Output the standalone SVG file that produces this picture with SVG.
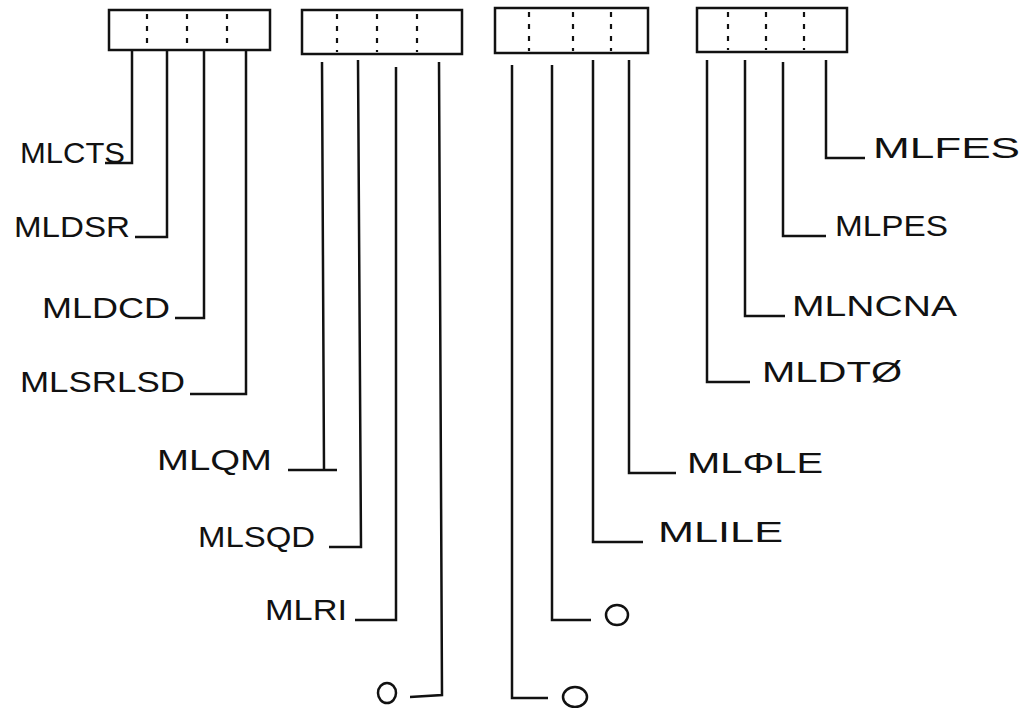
<svg xmlns="http://www.w3.org/2000/svg" width="1025" height="708" viewBox="0 0 1025 708">
<style>
.box{fill:none;stroke:#111;stroke-width:2.5}
.div{stroke:#111;stroke-width:2.2;stroke-dasharray:5 7}
.wire{fill:none;stroke:#111;stroke-width:2.5;stroke-linejoin:miter}
.lbl{font-family:"Liberation Sans",Arial,sans-serif;font-size:29px;fill:#111}
.term{fill:none;stroke:#111;stroke-width:2.5}
</style>
<rect width="1025" height="708" fill="#fff"/>
<g id="register1">
<rect class="box" x="109" y="10" width="161" height="40"/>
<line class="div" x1="147" y1="14" x2="147" y2="48"/>
<line class="div" x1="187" y1="14" x2="187" y2="48"/>
<line class="div" x1="227" y1="14" x2="227" y2="48"/>
</g>
<g id="register2">
<rect class="box" x="302" y="10" width="160" height="44"/>
<line class="div" x1="337" y1="14" x2="337" y2="52"/>
<line class="div" x1="377" y1="14" x2="377" y2="52"/>
<line class="div" x1="417" y1="14" x2="417" y2="52"/>
</g>
<g id="register3">
<rect class="box" x="495" y="8" width="153" height="45"/>
<line class="div" x1="529" y1="12" x2="529" y2="51"/>
<line class="div" x1="573" y1="12" x2="573" y2="51"/>
<line class="div" x1="611" y1="12" x2="611" y2="51"/>
</g>
<g id="register4">
<rect class="box" x="697" y="8" width="150" height="44"/>
<line class="div" x1="728" y1="12" x2="728" y2="50"/>
<line class="div" x1="766" y1="12" x2="766" y2="50"/>
<line class="div" x1="804" y1="12" x2="804" y2="50"/>
</g>
<g id="connectors">
<path class="wire" d="M132,50 V163 H105"/>
<path class="wire" d="M167,50 V237 H135"/>
<path class="wire" d="M204,50 V318 H175"/>
<path class="wire" d="M246,50 V394 H190"/>
<path class="wire" d="M322,62 L324,470 H288 M324,470 H337"/>
<path class="wire" d="M358,60 L361,547 H329"/>
<path class="wire" d="M396,67 V620 H355"/>
<path class="wire" d="M439,62 L442,695 L410,697"/>
<path class="wire" d="M512,65 V698 H548"/>
<path class="wire" d="M552,65 V620 H591"/>
<path class="wire" d="M593,60 V542 H643"/>
<path class="wire" d="M629,60 V473 H676"/>
<path class="wire" d="M707,60 V382 H750"/>
<path class="wire" d="M745,60 V316 H785"/>
<path class="wire" d="M783,62 V236 H826"/>
<path class="wire" d="M826,60 V158 H865"/>
</g>
<g id="label-MLCTS"><text class="lbl" x="20" y="163" textLength="105" lengthAdjust="spacingAndGlyphs">MLCTS</text></g>
<g id="label-MLDSR"><text class="lbl" x="14" y="237" textLength="116" lengthAdjust="spacingAndGlyphs">MLDSR</text></g>
<g id="label-MLDCD"><text class="lbl" x="42" y="318" textLength="128" lengthAdjust="spacingAndGlyphs">MLDCD</text></g>
<g id="label-MLSRLSD"><text class="lbl" x="20" y="392" textLength="165" lengthAdjust="spacingAndGlyphs">MLSRLSD</text></g>
<g id="label-MLQM"><text class="lbl" x="157" y="470" textLength="115" lengthAdjust="spacingAndGlyphs">MLQM</text></g>
<g id="label-MLSQD"><text class="lbl" x="198" y="547" textLength="117" lengthAdjust="spacingAndGlyphs">MLSQD</text></g>
<g id="label-MLRI"><text class="lbl" x="265" y="620" textLength="82" lengthAdjust="spacingAndGlyphs">MLRI</text></g>
<g id="term-1"><ellipse class="term" cx="387" cy="693" rx="9" ry="10"/></g>
<g id="term-2"><ellipse class="term" cx="575" cy="697" rx="12" ry="10"/></g>
<g id="term-3"><ellipse class="term" cx="617" cy="615" rx="11" ry="10"/></g>
<g id="label-MLILE"><text class="lbl" x="658" y="542" textLength="125" lengthAdjust="spacingAndGlyphs">MLILE</text></g>
<g id="label-MLPHILE"><text class="lbl" x="687" y="473" textLength="136" lengthAdjust="spacingAndGlyphs">MLΦLE</text></g>
<g id="label-MLDTO"><text class="lbl" x="762" y="382" textLength="140" lengthAdjust="spacingAndGlyphs">MLDTØ</text></g>
<g id="label-MLNCNA"><text class="lbl" x="792" y="316" textLength="165" lengthAdjust="spacingAndGlyphs">MLNCNA</text></g>
<g id="label-MLPES"><text class="lbl" x="835" y="236" textLength="113" lengthAdjust="spacingAndGlyphs">MLPES</text></g>
<g id="label-MLFES"><text class="lbl" x="873" y="158" textLength="147" lengthAdjust="spacingAndGlyphs">MLFES</text></g>
</svg>
